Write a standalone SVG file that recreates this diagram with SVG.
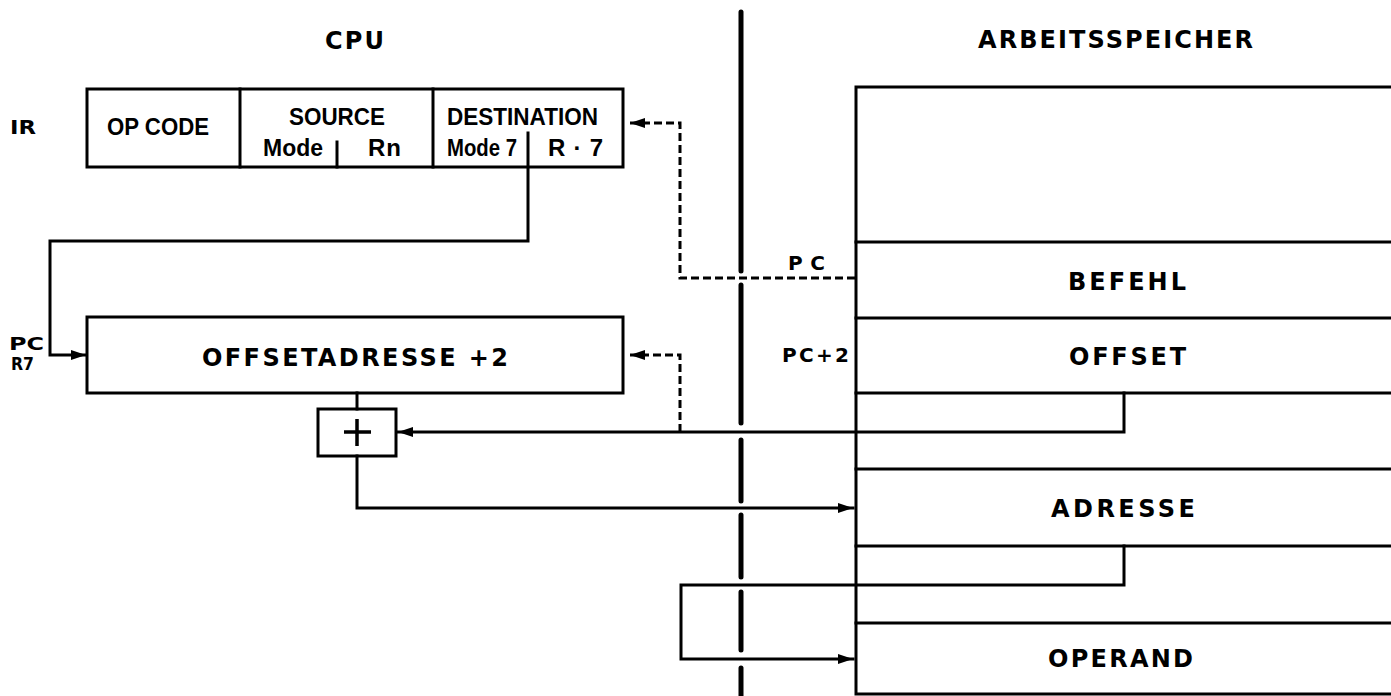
<svg xmlns="http://www.w3.org/2000/svg" width="1391" height="696" viewBox="0 0 1391 696">
<defs>
<marker id="ah" markerWidth="16" markerHeight="12" refX="15" refY="6" orient="auto" markerUnits="userSpaceOnUse">
<path d="M0,1 L15,6 L0,11 z" fill="#000"/>
</marker>
<style>
.ln{fill:none;stroke:#000;stroke-width:3;stroke-linejoin:miter;stroke-linecap:square}
.dl{fill:none;stroke:#000;stroke-width:3;stroke-dasharray:8 4}
.bx{fill:#fff;stroke:#000;stroke-width:3}
.dv{stroke:#000;stroke-width:5;stroke-linecap:round}
.ir{font-family:"Liberation Sans",Arial,sans-serif;font-weight:bold;font-size:24px;fill:#000}
.g{font-family:"DejaVu Sans","Liberation Sans",sans-serif;font-weight:bold;font-size:24px;fill:#000}
.gs{font-family:"DejaVu Sans","Liberation Sans",sans-serif;font-weight:bold;font-size:20px;fill:#000}
.gl{font-family:"DejaVu Sans","Liberation Sans",sans-serif;font-weight:bold;font-size:17px;fill:#000}
</style>
</defs>
<rect width="1391" height="696" fill="#fff"/>

<g id="divider">
<line class="dv" x1="741" y1="12" x2="741" y2="271"/>
<line class="dv" x1="741" y1="285" x2="741" y2="423"/>
<line class="dv" x1="741" y1="440" x2="741" y2="501"/>
<line class="dv" x1="741" y1="515" x2="741" y2="577"/>
<line class="dv" x1="741" y1="592" x2="741" y2="650"/>
<line class="dv" x1="741" y1="668" x2="741" y2="700"/>
</g>

<g id="titles">
<text class="g" x="325" y="49" textLength="59">CPU</text>
<text class="g" x="978" y="48" textLength="275">ARBEITSSPEICHER</text>
</g>

<g id="ir">
<text class="gs" x="10" y="134" textLength="26" lengthAdjust="spacingAndGlyphs">IR</text>
<rect class="bx" x="87" y="89" width="536" height="78"/>
<line class="ln" x1="240" y1="89" x2="240" y2="167"/>
<line class="ln" x1="433" y1="89" x2="433" y2="167"/>
<line class="ln" x1="337" y1="142" x2="337" y2="167"/>
<text class="ir" x="107" y="135" textLength="102" lengthAdjust="spacingAndGlyphs">OP CODE</text>
<text class="ir" x="289" y="125" textLength="96" lengthAdjust="spacingAndGlyphs">SOURCE</text>
<text class="ir" x="263" y="156" textLength="60" lengthAdjust="spacingAndGlyphs">Mode</text>
<text class="ir" x="368" y="156" textLength="33" lengthAdjust="spacing">Rn</text>
<text class="ir" x="447" y="125" textLength="151" lengthAdjust="spacingAndGlyphs">DESTINATION</text>
<text class="ir" x="447" y="156" textLength="70" lengthAdjust="spacingAndGlyphs">Mode 7</text>
<text class="ir" x="548" y="156" textLength="55" lengthAdjust="spacing">R · 7</text>
</g>

<g id="offsetadresse">
<rect class="bx" x="87" y="317" width="536" height="76"/>
<text class="g" x="202" y="366" textLength="306">OFFSETADRESSE +2</text>
<text class="gl" x="9" y="350" textLength="35" lengthAdjust="spacingAndGlyphs">PC</text>
<text class="gl" x="11" y="370" textLength="23" lengthAdjust="spacingAndGlyphs">R7</text>
</g>

<g id="adder">
<rect class="bx" x="318" y="409" width="78" height="47"/>
<path d="M357,419 V446 M344,432 H371" stroke="#000" stroke-width="3.5" fill="none"/>
</g>

<g id="memory">
<path class="ln" d="M1391,87 H856 V694 H1391"/>
<line class="ln" x1="856" y1="242" x2="1391" y2="242"/>
<line class="ln" x1="856" y1="318" x2="1391" y2="318"/>
<line class="ln" x1="856" y1="393" x2="1391" y2="393"/>
<line class="ln" x1="856" y1="469" x2="1391" y2="469"/>
<line class="ln" x1="856" y1="546" x2="1391" y2="546"/>
<line class="ln" x1="856" y1="623" x2="1391" y2="623"/>
<text class="g" x="1068" y="290" textLength="118">BEFEHL</text>
<text class="g" x="1069" y="365" textLength="117">OFFSET</text>
<text class="g" x="1051" y="517" textLength="144">ADRESSE</text>
<text class="g" x="1048" y="667" textLength="145">OPERAND</text>
<text class="gs" x="788" y="270" textLength="37">PC</text>
<text class="gs" x="782" y="362" textLength="67">PC+2</text>
</g>

<g id="connectors">
<path class="ln" d="M528,133 V241 H50 V355 H86" marker-end="url(#ah)"/>
<path class="dl" d="M855,278 H680 V123 H630" marker-end="url(#ah)"/>
<path class="dl" d="M680,432 V355 H630" marker-end="url(#ah)"/>
<path class="ln" d="M1124,393 V432 H398" marker-end="url(#ah)"/>
<line class="ln" x1="357" y1="393" x2="357" y2="409"/>
<path class="ln" d="M357,456 V508 H853" marker-end="url(#ah)"/>
<path class="ln" d="M1124,546 V585 H681 V659 H853" marker-end="url(#ah)"/>
</g>
</svg>
